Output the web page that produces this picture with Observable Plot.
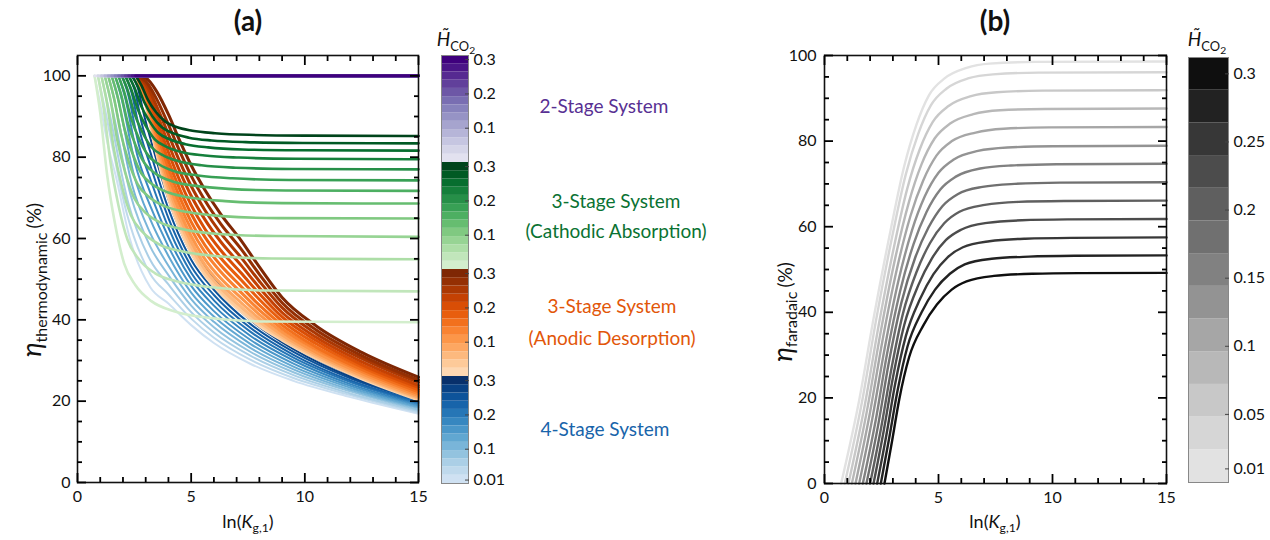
<!DOCTYPE html>
<html><head><meta charset="utf-8">
<script src="https://cdn.jsdelivr.net/npm/d3@7"></script>
<script src="https://cdn.jsdelivr.net/npm/@observablehq/plot@0.6"></script>
<style>
body{margin:0;background:#fff;}
#root{position:relative;width:1270px;height:540px;overflow:hidden;font-family:Lato,"Open Sans",sans-serif;color:#111;}
.c{position:absolute;transform:translate(-50%,-50%);white-space:nowrap;}
.rot{position:absolute;transform:translate(-50%,-50%) rotate(-90deg);white-space:nowrap;}
.sub{font-size:0.68em;position:relative;top:0.35em;}
</style></head><body><div id="root"></div>
<script>
// ---------- data ----------
const hValues = [0.01,0.035,0.06,0.085,0.11,0.135,0.16,0.185,0.21,0.235,0.26,0.285,0.31];
const xTicks = [0,5,10,15];
const yTicksA = [0,20,40,60,80,100];
const yTicksB = [0,20,40,60,80,100];
const cbTicksA = ["0.01","0.1","0.2","0.3"];
const cbTicksB = ["0.01","0.05","0.1","0.15","0.2","0.25","0.3"];

// 2-stage system (purple): flat at 100 from start x
const purpleStart = [0.75,0.90,1.05,1.20,1.35,1.50,1.65,1.80,1.95,2.10,2.25,2.40,2.55];
const purpleLevel = 100;

// 3-stage cathodic absorption (green)
const greenX = [
[0.75,1.00,1.30,1.65,2.05,2.55,3.25,4.25,5.75,8.25,15],
[0.90,1.15,1.45,1.80,2.20,2.70,3.40,4.40,5.90,8.40,15],
[1.05,1.30,1.60,1.95,2.35,2.85,3.55,4.55,6.05,8.55,15],
[1.20,1.45,1.75,2.10,2.50,3.00,3.70,4.70,6.20,8.70,15],
[1.35,1.60,1.90,2.25,2.65,3.15,3.85,4.85,6.35,8.85,15],
[1.50,1.75,2.05,2.40,2.80,3.30,4.00,5.00,6.50,9.00,15],
[1.65,1.90,2.20,2.55,2.95,3.45,4.15,5.15,6.65,9.15,15],
[1.80,2.05,2.35,2.70,3.10,3.60,4.30,5.30,6.80,9.30,15],
[1.95,2.20,2.50,2.85,3.25,3.75,4.45,5.45,6.95,9.45,15],
[2.10,2.35,2.65,3.00,3.40,3.90,4.60,5.60,7.10,9.60,15],
[2.25,2.50,2.80,3.15,3.55,4.05,4.75,5.75,7.25,9.75,15],
[2.40,2.65,2.95,3.30,3.70,4.20,4.90,5.90,7.40,9.90,15],
[2.55,2.80,3.10,3.45,3.85,4.35,5.05,6.05,7.55,10.05,15]];
const greenY = [
[100,90.9,75.8,63.6,53.9,48.5,44.6,42.1,40.5,39.6,39.4],
[100,92.0,78.8,68.2,59.7,54.9,51.5,49.4,48.0,47.2,47.0],
[100,93.2,82.0,72.9,65.7,61.7,58.7,56.9,55.7,55.1,54.9],
[100,94.1,84.2,76.2,69.9,66.3,63.8,62.2,61.1,60.6,60.4],
[100,94.7,86.0,78.9,73.3,70.2,67.9,66.5,65.5,65.0,64.9],
[100,95.3,87.4,81.2,76.1,73.3,71.3,70.0,69.2,68.7,68.6],
[100,95.8,88.7,83.0,78.5,75.9,74.1,73.0,72.2,71.8,71.7],
[100,96.1,89.7,84.6,80.5,78.2,76.5,75.5,74.8,74.4,74.3],
[100,96.6,90.8,86.2,82.5,80.5,79.0,78.0,77.4,77.1,77.0],
[100,96.9,91.8,87.7,84.4,82.6,81.2,80.4,79.9,79.6,79.5],
[100,97.2,92.6,89.0,86.0,84.4,83.2,82.4,81.9,81.7,81.6],
[100,97.5,93.4,90.0,87.4,85.9,84.8,84.1,83.7,83.5,83.4],
[100,97.8,94.1,91.1,88.8,87.4,86.5,85.9,85.5,85.3,85.2]];

// 3-stage anodic desorption (orange)
const orangeX = [2.6,3.0,3.5,4.0,4.5,5.0,5.6,6.3,7.2,8.0,9.0,10.5,12.5,15];
const orangeY = [
[100,93.0,80.5,70.0,62.5,56.5,51.0,46.5,42.0,38.5,35.0,30.5,25.5,20.3],
[100,93.2,80.9,70.5,63.0,57.0,51.5,47.0,42.4,38.9,35.3,30.7,25.7,20.4],
[100,93.4,81.6,71.4,64.0,58.0,52.4,47.8,43.2,39.5,35.7,31.0,25.9,20.7],
[100,93.8,82.4,72.6,65.2,59.2,53.6,48.9,44.2,40.3,36.3,31.5,26.3,21.0],
[100,94.3,83.5,73.9,66.6,60.6,55.0,50.2,45.4,41.3,37.0,32.0,26.8,21.4],
[100,94.8,84.7,75.5,68.3,62.3,56.7,51.8,46.7,42.4,37.8,32.7,27.3,21.8],
[100,95.3,86.0,77.3,70.1,64.1,58.4,53.4,48.2,43.6,38.7,33.3,27.8,22.3],
[100,95.9,87.4,79.1,72.1,66.1,60.4,55.2,49.8,45.0,39.7,34.1,28.4,22.8],
[100,96.5,88.9,81.2,74.2,68.2,62.4,57.1,51.5,46.4,40.7,34.9,29.0,23.4],
[100,97.2,90.6,83.3,76.5,70.5,64.7,59.2,53.4,47.9,41.8,35.7,29.7,23.9],
[100,98.0,92.3,85.6,78.9,72.9,67.0,61.3,55.3,49.5,43.0,36.6,30.5,24.6],
[100,98.7,94.1,88.0,81.4,75.4,69.4,63.6,57.4,51.2,44.2,37.5,31.2,25.2],
[100,99.5,96.0,90.5,84.0,78.0,72.0,66.0,59.5,53.0,45.5,38.5,32.0,25.9]];

// 4-stage system (blue)
const blueX = [
[0.75,1.00,1.30,1.70,2.30,3.2,4.0,5.0,6.0,7.6,9.5,12,15],
[0.90,1.15,2.18,3.2,4.0,5.0,6.0,7.6,9.5,12,15],
[1.05,1.30,2.25,3.2,4.0,5.0,6.0,7.6,9.5,12,15],
[1.20,1.45,2.33,3.2,4.0,5.0,6.0,7.6,9.5,12,15],
[1.35,1.60,2.40,3.2,4.0,5.0,6.0,7.6,9.5,12,15],
[1.50,1.75,2.48,3.2,4.0,5.0,6.0,7.6,9.5,12,15],
[1.65,1.90,2.55,3.2,4.0,5.0,6.0,7.6,9.5,12,15],
[1.80,2.05,2.63,3.2,4.0,5.0,6.0,7.6,9.5,12,15],
[1.95,2.20,2.70,3.2,4.0,5.0,6.0,7.6,9.5,12,15],
[2.10,2.35,2.78,3.2,4.0,5.0,6.0,7.6,9.5,12,15],
[2.25,2.50,2.85,3.2,4.0,5.0,6.0,7.6,9.5,12,15],
[2.40,2.65,2.93,3.2,4.0,5.0,6.0,7.6,9.5,12,15],
[2.55,2.80,3.0,3.2,4.0,5.0,6.0,7.6,9.5,12,15]];
const blueY = [
[100,93,84,75,60,48,44,38.7,34.3,29.2,25,21,16.9],
[100,93.4,65.9,51.3,46.3,40.3,35.6,30.2,25.7,21.5,17.2],
[100,93.75,68.4,54.7,48.7,41.9,36.9,31.2,26.4,21.9,17.6],
[100,94.1,70.8,58,51,43.5,38.2,32.15,27.1,22.4,17.9],
[100,94.5,73.2,61.3,53.3,45.1,39.5,33.1,27.8,22.8,18.3],
[100,94.9,75.7,64.7,55.7,46.7,40.8,34.1,28.5,23.3,18.6],
[100,95.25,78.1,68,58,48.35,42.15,35.1,29.25,23.75,18.95],
[100,95.6,80.5,71.3,60.3,50.0,43.5,36.1,30.0,24.2,19.3],
[100,96,83.0,74.7,62.7,51.6,44.8,37.1,30.7,24.7,19.6],
[100,96.4,85.5,78,65,53.2,46.1,38.05,31.4,25.1,19.95],
[100,96.75,87.8,81.3,67.3,54.8,47.4,39.0,32.1,25.6,20.3],
[100,97.1,90.3,84.7,69.7,56.4,48.7,40.0,32.8,26.0,20.7],
[100,97.5,94,88,72,58,50,41,33.5,26.5,21]];

// panel (b): faradaic efficiency (grey)
const greyX = [
[0.73,1.53,2.18,2.90,3.49,4.03,4.58,5.28,6.23,7.23,9.23,15],
[0.89,1.65,2.27,2.97,3.56,4.11,4.67,5.36,6.33,7.39,9.39,15],
[1.05,1.77,2.37,3.04,3.63,4.18,4.75,5.44,6.43,7.55,9.55,15],
[1.20,1.88,2.45,3.10,3.70,4.25,4.83,5.51,6.53,7.70,9.70,15],
[1.36,2.00,2.54,3.17,3.77,4.33,4.91,5.59,6.63,7.86,9.86,15],
[1.52,2.12,2.64,3.24,3.84,4.40,5.00,5.67,6.73,8.02,10.02,15],
[1.68,2.25,2.73,3.31,3.91,4.48,5.08,5.76,6.83,8.18,10.18,15],
[1.84,2.37,2.82,3.37,3.98,4.56,5.17,5.84,6.93,8.34,10.34,15],
[2.00,2.49,2.92,3.44,4.05,4.63,5.25,5.92,7.03,8.50,10.50,15],
[2.15,2.60,3.00,3.50,4.12,4.70,5.33,5.99,7.13,8.65,10.65,15],
[2.31,2.72,3.09,3.57,4.19,4.78,5.41,6.07,7.23,8.81,10.81,15],
[2.47,2.84,3.19,3.64,4.26,4.85,5.50,6.15,7.33,8.97,10.97,15],
[2.63,2.96,3.28,3.71,4.33,4.93,5.58,6.23,7.43,9.13,11.13,15]];
const greyY = [
[0,19.7,39.4,59.2,74.0,83.8,90.7,94.7,97.1,98.1,98.5,98.6],
[0,19.2,38.4,57.7,72.1,81.7,88.4,92.3,94.7,95.6,96.0,96.1],
[0,18.4,36.8,55.1,68.9,78.1,84.5,88.2,90.5,91.4,91.8,91.9],
[0,17.5,35.0,52.6,65.7,74.5,80.6,84.1,86.3,87.2,87.5,87.6],
[0,16.7,33.3,50.0,62.5,70.8,76.6,80.0,82.0,82.9,83.2,83.3],
[0,15.8,31.6,47.3,59.2,67.1,72.6,75.7,77.7,78.5,78.8,78.9],
[0,14.9,29.9,44.8,56.0,63.5,68.7,71.7,73.6,74.3,74.6,74.7],
[0,14.1,28.2,42.2,52.8,59.8,64.8,67.6,69.3,70.0,70.3,70.4],
[0,13.2,26.4,39.7,49.6,56.2,60.8,63.5,65.1,65.8,66.0,66.1],
[0,12.4,24.7,37.1,46.4,52.5,56.9,59.3,60.9,61.5,61.7,61.8],
[0,11.5,23.0,34.5,43.1,48.9,52.9,55.2,56.6,57.2,57.4,57.5],
[0,10.7,21.3,32.0,40.0,45.3,49.0,51.2,52.5,53.0,53.2,53.3],
[0,9.8,19.7,29.5,36.9,41.8,45.3,47.2,48.5,49.0,49.15,49.2]];

// ---------- helpers ----------
const root = document.getElementById("root");
const FONT = "Lato, 'Open Sans', sans-serif";
const tOf = i => i/(hValues.length-1);
const colA = (interp, i) => interp(0.2 + 0.8*tOf(i));
const colG = i => d3.interpolateGreys(0.2 + 0.75*tOf(i));
const zip = (xs, ys) => xs.map((x,k) => ({x, y: ys[k]}));
const place = (el, left, top) => { el.style.position="absolute"; el.style.left=left+"px"; el.style.top=top+"px"; root.appendChild(el); };
const range = (a,b,s) => d3.range(a,b+1e-9,s);
const minorOf = (lo,hi,step,major) => range(lo,hi,step).filter(v => !major.some(m => Math.abs(m-v)<1e-9));

// inward ticks on all four sides, drawn by Plot axis marks with negative tick size (no labels)
function frameAxes(xMaj, xMin, yMaj, yMin) {
  const st = {stroke:"#000", strokeWidth:1.8, fill:"none", label:null};
  return [
    Plot.axisX({anchor:"bottom", ticks:xMaj, tickSize:-9, ...st}),
    Plot.axisX({anchor:"top",    ticks:xMaj, tickSize:-9, ...st}),
    Plot.axisX({anchor:"bottom", ticks:xMin, tickSize:-5, ...st}),
    Plot.axisX({anchor:"top",    ticks:xMin, tickSize:-5, ...st}),
    Plot.axisY({anchor:"left",   ticks:yMaj, tickSize:-9, ...st}),
    Plot.axisY({anchor:"right",  ticks:yMaj, tickSize:-9, ...st}),
    Plot.axisY({anchor:"left",   ticks:yMin, tickSize:-5, ...st}),
    Plot.axisY({anchor:"right",  ticks:yMin, tickSize:-5, ...st})
  ];
}

// ---------- panel (a) ----------
{
  const W=430, H=540, mL=77, mR=12, mT=55, mB=58;
  const marks = [];
  blueX.forEach((xs,i) => marks.push(Plot.line(zip(xs, blueY[i]), {x:"x", y:"y", stroke: colA(d3.interpolateBlues,i), strokeWidth:2, curve:"monotone-x"})));
  orangeY.forEach((ys,i) => marks.push(Plot.line(zip(orangeX, ys), {x:"x", y:"y", stroke: colA(d3.interpolateOranges,i), strokeWidth:3, curve:"monotone-x"})));
  greenX.forEach((xs,i) => marks.push(Plot.line(zip(xs, greenY[i]), {x:"x", y:"y", stroke: colA(d3.interpolateGreens,i), strokeWidth:2.6, curve:"monotone-x"})));
  purpleStart.forEach((x0,i) => marks.push(Plot.line([{x:x0,y:purpleLevel},{x:15,y:purpleLevel}], {x:"x", y:"y", stroke: colA(d3.interpolatePurples,i), strokeWidth:2.6})));
  const svg = Plot.plot({
    width: W, height: H, marginLeft: mL, marginRight: mR, marginTop: mT, marginBottom: mB,
    x: {domain:[0,15]}, y: {domain:[0,105]},
    style: {fontFamily: FONT, fontSize: "16px", color: "#111", background: "transparent", overflow: "visible"},
    marks: [
      ...marks,
      Plot.frame({stroke:"#111", strokeWidth:1.6}),
      ...frameAxes(xTicks, minorOf(0,15,1,xTicks), yTicksA, minorOf(0,100,5,yTicksA)),
      Plot.axisX({ticks: xTicks, tickSize:0, tickPadding:8, label:null}),
      Plot.axisY({ticks: yTicksA, tickSize:0, tickPadding:7, label:null})
    ]
  });
  place(svg, 0, 0);
}

// ---------- colorbar (a) ----------
{
  const W=100, H=540, mL=11, mR=62, mT=55, mB=57;
  const seg = 0.312, bw = 0.024;
  const families = [d3.interpolateBlues, d3.interpolateOranges, d3.interpolateGreens, d3.interpolatePurples];
  const bands = [];
  families.forEach((interp, s) => hValues.forEach((h,i) => bands.push({y1: s*seg + i*bw, y2: s*seg + (i+1)*bw, fill: colA(interp,i)})));
  const tickPos = [], tickLab = new Map();
  families.forEach((_, s) => cbTicksA.forEach(t => { if (t === "0.01" && s > 0) return; const p = +(s*seg + (+t)).toFixed(4); tickPos.push(p); tickLab.set(p, t); }));
  const svg = Plot.plot({
    width: W, height: H, marginLeft: mL, marginRight: mR, marginTop: mT, marginBottom: mB,
    x: {domain:[0,1], axis:null}, y: {domain:[0, 4*seg]},
    color: {type:"identity"},
    style: {fontFamily: FONT, fontSize: "16px", color: "#111", background: "transparent", overflow: "visible"},
    marks: [
      Plot.rect(bands, {x1:()=>0, x2:()=>1, y1:"y1", y2:"y2", fill:"fill"}),
      Plot.frame({stroke:"#888", strokeWidth:1}),
      Plot.axisY({anchor:"right", ticks: tickPos, tickSize:-4, stroke:"#444", fill:"none", label:null}),
      Plot.axisY({anchor:"right", ticks: tickPos, tickFormat: d => tickLab.get(+d.toFixed(4)), tickSize:0, tickPadding:5, label:null})
    ]
  });
  place(svg, 430, 0);
}

// ---------- panel (b) ----------
{
  const W=420, H=540, mL=64, mR=14, mT=55, mB=57;
  const marks = greyX.map((xs,i) => Plot.line(zip(xs, greyY[i]), {x:"x", y:"y", stroke: colG(i), strokeWidth:2.4, curve:"monotone-x"}));
  const svg = Plot.plot({
    width: W, height: H, marginLeft: mL, marginRight: mR, marginTop: mT, marginBottom: mB,
    x: {domain:[0,15]}, y: {domain:[0,100]},
    style: {fontFamily: FONT, fontSize: "16px", color: "#111", background: "transparent", overflow: "visible"},
    marks: [
      ...marks,
      Plot.frame({stroke:"#111", strokeWidth:1.6}),
      ...frameAxes(xTicks, minorOf(0,15,1,xTicks), yTicksB, minorOf(0,100,5,yTicksB)),
      Plot.axisX({ticks: xTicks, tickSize:0, tickPadding:8, label:null}),
      Plot.axisY({ticks: yTicksB, tickSize:0, tickPadding:8, label:null})
    ]
  });
  place(svg, 760, 0);
}

// ---------- colorbar (b) ----------
{
  const W=90, H=540, mL=8, mR=42, mT=57, mB=58;
  const bw = 0.024;
  const bands = hValues.map((h,i) => ({y1: i*bw, y2: (i+1)*bw, fill: colG(i)}));
  const tickPos = cbTicksB.map(t => +t);
  const svg = Plot.plot({
    width: W, height: H, marginLeft: mL, marginRight: mR, marginTop: mT, marginBottom: mB,
    x: {domain:[0,1], axis:null}, y: {domain:[0, 13*bw]},
    color: {type:"identity"},
    style: {fontFamily: FONT, fontSize: "16px", color: "#111", background: "transparent", overflow: "visible"},
    marks: [
      Plot.rect(bands, {x1:()=>0, x2:()=>1, y1:"y1", y2:"y2", fill:"fill"}),
      Plot.frame({stroke:"#888", strokeWidth:1}),
      Plot.axisY({anchor:"right", ticks: tickPos, tickSize:-4, stroke:"#444", fill:"none", label:null}),
      Plot.axisY({anchor:"right", ticks: tickPos, tickFormat: (d,k) => cbTicksB[k], tickSize:0, tickPadding:5, label:null})
    ]
  });
  place(svg, 1180, 0);
}

// ---------- text ----------
function addText(html, x, y, css, cls="c") {
  const d = document.createElement("div");
  d.className = cls; d.innerHTML = html;
  d.style.left = x+"px"; d.style.top = y+"px";
  if (css) d.style.cssText += css;
  root.appendChild(d);
}
addText("(a)", 248, 20, "font-size:28px;font-weight:bold;");
addText("(b)", 995, 20, "font-size:28px;font-weight:bold;");
const hTitle = '<i>H&#x0303;</i><span class="sub">CO<span style="font-size:0.8em;position:relative;top:0.3em">2</span></span>';
addText(hTitle, 456, 38, "font-size:19px;");
addText(hTitle, 1207, 38, "font-size:19px;");
const xLab = 'ln(<i>K</i><span class="sub">g,1</span>)';
addText(xLab, 248, 521, "font-size:18px;");
addText(xLab, 995, 521, "font-size:18px;");
addText('<i style="font-size:27px">&#951;</i><span style="font-size:16px;position:relative;top:6px">thermodynamic</span> <span style="font-size:19px">(%)</span>', 30, 280, "", "rot");
addText('<i style="font-size:27px">&#951;</i><span style="font-size:16px;position:relative;top:5px">faradaic</span> <span style="font-size:19px">(%)</span>', 781, 312, "", "rot");
addText("2-Stage System", 604, 105, "font-size:19px;color:" + d3.interpolatePurples(0.85));
addText("3-Stage System", 616, 200, "font-size:19px;color:" + d3.interpolateGreens(0.85));
addText("(Cathodic Absorption)", 616, 230, "font-size:19px;color:" + d3.interpolateGreens(0.85));
addText("3-Stage System", 612, 305, "font-size:19px;color:" + d3.interpolateOranges(0.7));
addText("(Anodic Desorption)", 612, 337, "font-size:19px;color:" + d3.interpolateOranges(0.7));
addText("4-Stage System", 605, 428, "font-size:19px;color:" + d3.interpolateBlues(0.8));
</script></body></html>
